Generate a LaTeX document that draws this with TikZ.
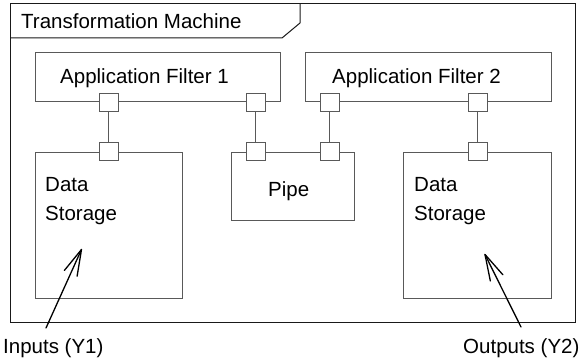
\documentclass[tikz,border=0pt]{standalone}
\usepackage{fontspec}
\setmainfont{Liberation Sans}
\usetikzlibrary{calc}
\begin{document}
\begin{tikzpicture}[x=1pt,y=-1pt,
  frm/.style={draw=black!90,line width=1pt,inner sep=0pt},
  box/.style={draw=black!65,line width=1pt,inner sep=0pt,fill=white},
  port/.style={draw=black!65,line width=1pt,fill=white,inner sep=0pt,minimum width=19pt,minimum height=18pt},
  conn/.style={draw=black!65,line width=1pt},
  txt/.style={inner sep=0pt,anchor=base west,font=\fontsize{20.5}{24}\selectfont},
  arr/.style={line width=1.3pt,line cap=round,line join=round}]
\useasboundingbox (0,0) rectangle (581,361);
% frame
\node[frm,minimum width=565pt,minimum height=318pt] (frame) at (292.5,163) {};
\draw[frm] (10,38) -- (282,38) -- (300,23) -- (300,4);
\node[txt] (title) at (21,29) {Transformation Machine};
% filters
\node[box,minimum width=245pt,minimum height=48pt] (f1) at (157.5,77) {};
\node[txt] (f1t) at (60,83) {Application Filter 1};
\node[box,minimum width=246pt,minimum height=48pt] (f2) at (428,77) {};
\node[txt] (f2t) at (332,83) {Application Filter 2};
% storages and pipe
\node[box,minimum width=147pt,minimum height=146pt] (s1) at (108.5,225) {};
\node[txt] (s1a) at (45,191) {Data};
\node[txt] (s1b) at (45,220) {Storage};
\node[box,minimum width=123pt,minimum height=68pt] (pipe) at (292.5,186) {};
\node[txt] (pipet) at (268,196) {Pipe};
\node[box,minimum width=148pt,minimum height=146pt] (s2) at (477,225) {};
\node[txt] (s2a) at (414,191) {Data};
\node[txt] (s2b) at (414,220) {Storage};
% ports
\node[port] (p1) at (108.5,102) {};
\node[port] (p2) at (255.5,102) {};
\node[port] (p3) at (329.5,102) {};
\node[port] (p4) at (477.5,102) {};
\node[port] (q1) at (108.5,151.5) {};
\node[port] (q2) at (255.5,151.5) {};
\node[port] (q3) at (329.5,151.5) {};
\node[port] (q4) at (477.5,151.5) {};
% connectors
\draw[conn] (p1.south) -- (q1.north);
\draw[conn] (p2.south) -- (q2.north);
\draw[conn] (p3.south) -- (q3.north);
\draw[conn] (p4.south) -- (q4.north);
% inputs / outputs
\node[txt] (inl) at (3,353) {Inputs (Y1)};
\node[txt] (outl) at (463,353) {Outputs (Y2)};
\coordinate (ins) at (46,328);
\coordinate (intip) at (81.5,249.5);
\coordinate (outs) at (521,327);
\coordinate (outtip) at (485,254.5);
\draw[arr] (ins) -- (intip);
\draw[arr] ($(intip)!27pt!15:(ins)$) -- (intip) -- ($(intip)!27pt!-15:(ins)$);
\draw[arr] (outs) -- (outtip);
\draw[arr] ($(outtip)!27pt!15:(outs)$) -- (outtip) -- ($(outtip)!27pt!-15:(outs)$);
\end{tikzpicture}
\end{document}
